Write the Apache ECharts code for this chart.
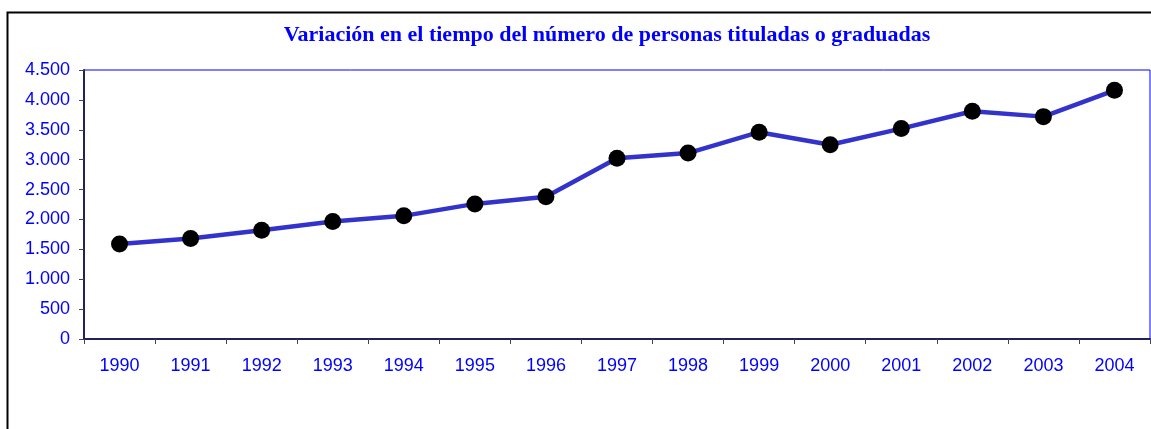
<!DOCTYPE html>
<html>
<head>
<meta charset="utf-8">
<script src="https://cdn.jsdelivr.net/npm/echarts@6/dist/echarts.min.js"></script>
<style>
    html, body { margin: 0; padding: 0; background: #fff; }
    #chart { width: 1151px; height: 429px; }
</style>
</head>
<body>
<div id="chart"></div>
<script>
// datos
var years = ['1990','1991','1992','1993','1994','1995','1996','1997','1998','1999','2000','2001','2002','2003','2004'];
var titulados = [1590, 1680, 1820, 1965, 2060, 2260, 2380, 3025, 3110, 3460, 3250, 3520, 3810, 3720, 4160];

var chart = echarts.init(document.getElementById('chart'));

var option = {
    animation: false,
    title: {
        text: 'Variación en el tiempo del número de personas tituladas o graduadas',
        left: 602,
        textAlign: 'center',
        top: 19,
        textStyle: {
            fontFamily: 'Liberation Serif',
            fontWeight: 'bold',
            fontSize: 22,
            color: '#0000FF'
        }
    },
    graphic: [{
        type: 'rect',
        shape: { x: 7.5, y: 12.5, width: 1200, height: 500 },
        style: { fill: 'none', stroke: '#000', lineWidth: 2 },
        z: 100
    }],
    grid: {
        left: 84,
        right: 1,
        top: 70,
        bottom: 90,
        show: true,
        borderColor: '#0000FF',
        borderWidth: 1
    },
    xAxis: {
        type: 'category',
        data: years,
        boundaryGap: true,
        axisLine: { lineStyle: { color: '#22225a', width: 2 } },
        axisTick: { show: true, length: 5, lineStyle: { color: '#444' } },
        axisLabel: {
            color: '#0000FF',
            fontFamily: 'Liberation Sans',
            fontSize: 18,
            margin: 18
        },
        splitLine: { show: false }
    },
    yAxis: {
        type: 'value',
        min: 0,
        max: 4500,
        interval: 500,
        axisLine: { show: true, lineStyle: { color: '#22225a', width: 2 } },
        axisTick: { show: true, length: 5, lineStyle: { color: '#444' } },
        axisLabel: {
            color: '#0000FF',
            fontFamily: 'Liberation Sans',
            fontSize: 18,
            margin: 14,
            formatter: function (v) {
                return String(v).replace(/\B(?=(\d{3})+(?!\d))/g, '.');
            }
        },
        splitLine: { show: false }
    },
    series: [{
        type: 'line',
        data: titulados,
        symbol: 'circle',
        symbolSize: 17,
        itemStyle: { color: '#000' },
        lineStyle: { color: '#3333CC', width: 4.5 }
    }]
};

chart.setOption(option);
</script>
</body>
</html>
